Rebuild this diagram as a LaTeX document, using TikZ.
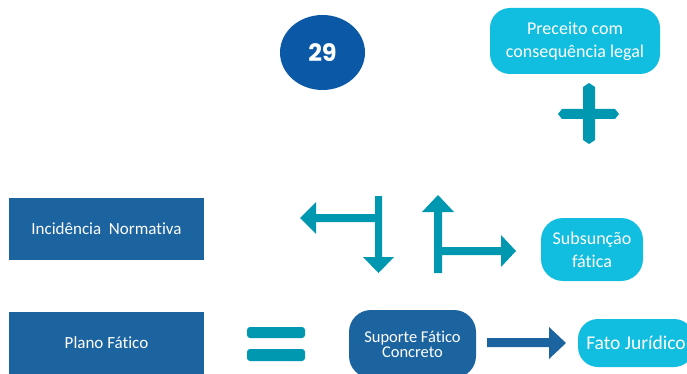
\documentclass[tikz,border=0pt]{standalone}
\usepackage{fontspec}
\usetikzlibrary{shapes.geometric}
\setmainfont{Carlito}[Ligatures={NoCommon}]
\newfontfamily\numfont{Poppins}
\definecolor{darkbox}{RGB}{28,100,160}
\definecolor{circblue}{RGB}{10,88,166}
\definecolor{cyanbox}{RGB}{18,190,223}
\definecolor{tealarr}{RGB}{0,152,176}
\tikzset{
  sqbox/.style={fill=darkbox, text=white, inner sep=0pt, align=center, font=\fontsize{17}{21}\selectfont},
  rbox/.style={fill=cyanbox, text=white, inner sep=0pt, align=center, rounded corners=20pt, font=\fontsize{18}{23}\selectfont},
  darkr/.style={fill=darkbox, text=white, inner sep=0pt, align=center, rounded corners=22pt, font=\fontsize{16.5}{15}\selectfont},
  tealshape/.style={fill=tealarr, draw=none},
  darkshape/.style={fill=darkbox, draw=none}
}
\begin{document}
\begin{tikzpicture}[x=1pt,y=-1pt]
\useasboundingbox (0,0) rectangle (687,374);
% circle
\node[ellipse, fill=circblue, minimum width=85pt, minimum height=75pt, inner sep=0pt, text=white, font=\numfont\bfseries\fontsize{24}{26}\selectfont] (num) at (322.5,52.5) {29};
% boxes
\node[rbox, minimum width=170pt, minimum height=66pt] (prec) at (575,41) {Preceito com\\consequência legal};
\node[sqbox, minimum width=195pt, minimum height=62pt] (inc) at (106.5,229) {Incidência\ \ Normativa};
\node[sqbox, minimum width=195pt, minimum height=62pt] (plano) at (106.5,343) {Plano Fático};
\node[darkr, minimum width=127pt, minimum height=68pt] (sup) at (412.5,344) {Suporte Fático\\Concreto};
\node[rbox, font=\fontsize{19.5}{23}\selectfont, minimum width=116pt, minimum height=48pt] (fato) at (636,343) {Fato Jurídico};
\node[rbox, rounded corners=22pt, minimum width=102pt, minimum height=63pt] (subs) at (592,249.5) {Subsunção\\fática};
% plus sign
\fill[tealshape] (583,87) -- (589,83) -- (595,87) -- (595,109) -- (615,109) -- (619,114) -- (615,119) -- (595,119) -- (595,140) -- (589,144) -- (583,140) -- (583,119) -- (562,119) -- (558,114) -- (562,109) -- (583,109) -- cycle;
% equals sign
\fill[tealshape, rounded corners=3pt] (247,327) rectangle (305,338);
\fill[tealshape, rounded corners=3pt] (247,349) rectangle (305,361);
% left/down arrow structure
\fill[tealshape] (375,196) -- (382,196) -- (382,257) -- (394,257) -- (378.5,273) -- (363,257) -- (375,257) -- (375,222) -- (316,222) -- (316,234) -- (300,218) -- (316,202) -- (316,214) -- (375,214) -- cycle;
% up/right arrow structure
\fill[tealshape] (434,273) -- (434,212) -- (422,212) -- (438,195) -- (454,212) -- (442,212) -- (442,247) -- (501,247) -- (501,235) -- (516,251) -- (501,267) -- (501,255) -- (442,255) -- (442,273) -- cycle;
% arrow to Fato
\fill[darkshape] (487,338) -- (549,338) -- (549,327) -- (566,343) -- (549,359) -- (549,347) -- (487,347) -- cycle;
\end{tikzpicture}
\end{document}
